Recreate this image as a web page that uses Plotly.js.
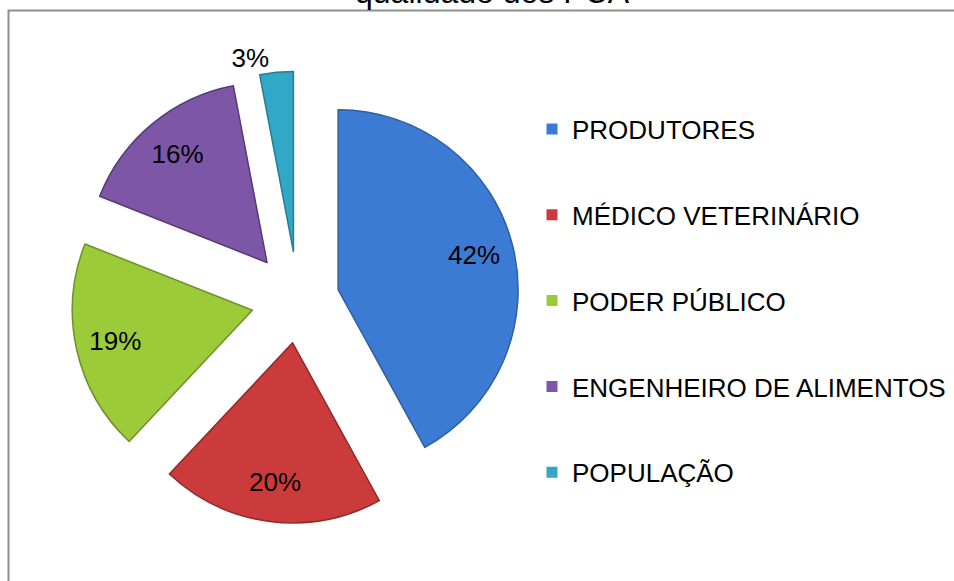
<!DOCTYPE html>
<html>
<head>
<meta charset="utf-8">
<script src="https://cdn.plot.ly/plotly-3.0.1.min.js"></script>
<style>html,body{margin:0;padding:0;background:#fff;}#chart{width:954px;height:581px;}</style>
</head>
<body>
<div id="chart"></div>
<script>
// Data
const categories = ['PRODUTORES', 'MÉDICO VETERINÁRIO', 'PODER PÚBLICO', 'ENGENHEIRO DE ALIMENTOS', 'POPULAÇÃO'];
const shares = [42, 20, 19, 16, 3];
const sliceColors = ['#3b7bd4', '#cc3b3b', '#9ccb3a', '#7e56a8', '#32a8c8'];
const edgeColors = ['#2e5f9e', '#8f2a2a', '#6f8f2a', '#563a75', '#267c93'];
const pulls = [0.23, 0.24, 0.26, 0.27, 0.27];
const labelPositions = ['inside', 'inside', 'inside', 'inside', 'outside'];
const titleText = 'qualidade dos PCA';

const W = 954, H = 581;
const pieDomain = {x: [69.4 / W, 526.6 / W], y: [1 - 528.6 / H, 1 - 71.4 / H]};
const FONT = 'Liberation Sans, Arial, sans-serif';

const traces = [];
// main pie (slices)
traces.push({
  type: 'pie',
  values: shares,
  labels: categories,
  sort: false,
  direction: 'clockwise',
  rotation: 0,
  pull: pulls,
  domain: pieDomain,
  marker: {colors: sliceColors, line: {color: edgeColors, width: 1.5}},
  textinfo: 'none',
  showlegend: false,
  hoverinfo: 'label+percent'
});
// label carrier pie (transparent ring, places percentage labels)
traces.push({
  type: 'pie',
  values: shares,
  labels: categories,
  sort: false,
  direction: 'clockwise',
  rotation: 0,
  pull: pulls,
  hole: 0.56,
  domain: pieDomain,
  marker: {colors: categories.map(() => 'rgba(0,0,0,0)'), line: {width: 0}},
  textinfo: 'percent',
  textposition: labelPositions,
  insidetextorientation: 'horizontal',
  textfont: {family: FONT, size: 26, color: '#000'},
  insidetextfont: {family: FONT, size: 26, color: '#000'},
  outsidetextfont: {family: FONT, size: 26, color: '#000'},
  showlegend: false,
  hoverinfo: 'skip'
});
// legend entries
categories.forEach((c, i) => {
  traces.push({
    type: 'scatter',
    x: [null], y: [null],
    mode: 'markers',
    name: c,
    legendgroup: 'g' + i,
    marker: {symbol: 'square', size: 11, color: sliceColors[i], line: {width: 0}},
    hoverinfo: 'skip'
  });
});

const layout = {
  width: W, height: H,
  margin: {l: 0, r: 0, t: 0, b: 0, pad: 0},
  paper_bgcolor: '#fff',
  plot_bgcolor: 'rgba(0,0,0,0)',
  font: {family: FONT, color: '#000'},
  title: {
    text: titleText,
    font: {family: FONT, size: 32, color: '#000'},
    xref: 'container', yref: 'container',
    x: 492 / W, xanchor: 'center',
    y: 0.995, yanchor: 'bottom'
  },
  xaxis: {visible: false, range: [0, 1]},
  yaxis: {visible: false, range: [0, 1]},
  showlegend: true,
  legend: {
    x: 532 / W, xanchor: 'left',
    y: 1 - 105.6 / H, yanchor: 'top',
    font: {family: FONT, size: 26, color: '#000'},
    tracegroupgap: 49,
    bgcolor: 'rgba(0,0,0,0)',
    borderwidth: 0,
    itemclick: false
  },
  shapes: [{
    type: 'rect', xref: 'paper', yref: 'paper',
    x0: 8.5 / W, x1: 1.05, y0: -0.05, y1: 1 - 10.5 / H,
    line: {color: '#8f8f8f', width: 2},
    fillcolor: 'rgba(0,0,0,0)',
    layer: 'below'
  }]
};

Plotly.newPlot('chart', traces, layout, {displayModeBar: false, staticPlot: true});
</script>
</body>
</html>
